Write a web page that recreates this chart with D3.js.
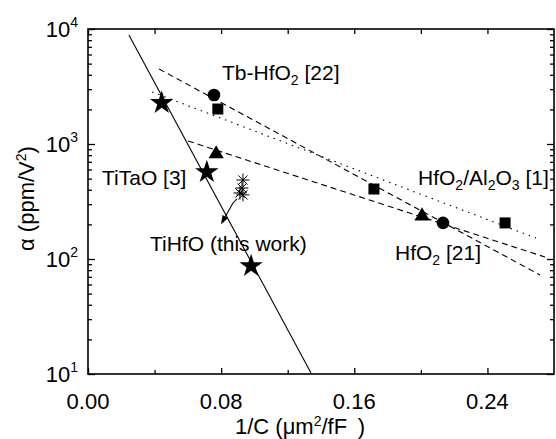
<!DOCTYPE html>
<html><head><meta charset="utf-8">
<script src="https://cdn.jsdelivr.net/npm/d3@7"></script>
<style>
body{margin:0;background:#fff;}
text{font-family:"Liberation Sans",Arial,sans-serif;fill:#000;}
</style></head>
<body><svg id="c" width="556" height="439"></svg>
<script>
// ---- data ----
const xTicks = [0, 0.08, 0.16, 0.24];
const xTickLabels = ["0.00", "0.08", "0.16", "0.24"];
const yTickExp = [1, 2, 3, 4];
// HfO2 [21] and Tb-HfO2 [22] (circles)
const circleX = [0.0757, 0.2133];
const circleY = [2670, 206];
// HfO2/Al2O3 [1] (squares)
const squareX = [0.078, 0.1718, 0.2506];
const squareY = [2015, 406, 206];
// triangles
const triX = [0.077, 0.2007];
const triY = [836, 241];
// TiTaO [3] & others (stars)
const starX = [0.0443, 0.0714, 0.098];
const starY = [2276, 571, 87];
// TiHfO (this work) asterisks
const astX = [0.0931, 0.0925, 0.0931, 0.0913];
const astY = [486, 414, 361, 375];
// fitted lines (endpoints)
const solidLineX = [0.0246, 0.134];
const solidLineY = [8870, 10.2];
const circLineX = [0.0427, 0.2716];
const circLineY = [4488, 72.6];
const triLineX = [0.0601, 0.2746];
const triLineY = [1062, 104];
const sqLineX = [0.0385, 0.2692];
const sqLineY = [2832, 152];
// arrow path
const arrowX = [0.0895, 0.0871, 0.0799];
const arrowY = [333, 307, 200];

// ---- layout ----
const svg = d3.select("#c");
const L = 88, R = 554, T = 29, B = 374;
const x = d3.scaleLinear().domain([0, 0.28]).range([L, R]);
const y = d3.scaleLog().domain([10, 10000]).range([B, T]);
const FS = 21;

const g = svg.append("g");
const minor = [];
for (let e = 1; e < 4; e++) for (let m = 2; m <= 9; m++) minor.push(m * Math.pow(10, e));
const yMaj = yTickExp.map(e => Math.pow(10, e));
const yAxisL = d3.axisLeft(y).tickValues(minor).tickSize(-4).tickFormat("");
const yAxisLMaj = d3.axisLeft(y).tickValues(yMaj).tickSize(-7).tickFormat("");
const yAxisR = d3.axisRight(y).tickValues(minor).tickSize(-4).tickFormat("");
const yAxisRMaj = d3.axisRight(y).tickValues(yMaj).tickSize(-7).tickFormat("");
const xMinor = [0.04, 0.12, 0.2];
const xAxisB = d3.axisBottom(x).tickValues(xTicks).tickSize(-6).tickFormat("");
const xAxisBm = d3.axisBottom(x).tickValues(xMinor).tickSize(-4).tickFormat("");
const xAxisT = d3.axisTop(x).tickValues(xTicks.concat(xMinor)).tickSize(-5).tickFormat("");

function styleAxis(sel){
  sel.select(".domain").remove();
  sel.selectAll("line").attr("stroke","#000").attr("stroke-width",1.3);
}
g.append("g").attr("transform",`translate(${L},0)`).call(yAxisL).call(styleAxis);
g.append("g").attr("transform",`translate(${L},0)`).call(yAxisLMaj).call(styleAxis);
g.append("g").attr("transform",`translate(${R},0)`).call(yAxisR).call(styleAxis);
g.append("g").attr("transform",`translate(${R},0)`).call(yAxisRMaj).call(styleAxis);
g.append("g").attr("transform",`translate(0,${B})`).call(xAxisB).call(styleAxis);
g.append("g").attr("transform",`translate(0,${B})`).call(xAxisBm).call(styleAxis);
g.append("g").attr("transform",`translate(0,${T})`).call(xAxisT).call(styleAxis);
g.append("rect").attr("x",L).attr("y",T).attr("width",R-L).attr("height",B-T)
  .attr("fill","none").attr("stroke","#000").attr("stroke-width",1.6);

// x tick labels
svg.append("g").selectAll("text").data(xTicks).join("text")
  .attr("x", d => x(d)).attr("y", 409).attr("text-anchor","middle")
  .attr("font-size", 22).text((d,i) => xTickLabels[i]);

// y tick labels
const yl = svg.append("g").selectAll("text").data(yTickExp).join("text")
  .attr("x", 78).attr("y", d => y(Math.pow(10,d)) + 8).attr("text-anchor","end")
  .attr("font-size", 22);
yl.append("tspan").text("10");
yl.append("tspan").attr("dy",-10).attr("font-size",14).text(d => d);

// axis titles
const xt = svg.append("text").attr("x", 235).attr("y", 434).attr("font-size", 22);
xt.append("tspan").text("1/C (\u03bcm");
xt.append("tspan").attr("dy",-8).attr("font-size",14).text("2");
xt.append("tspan").attr("dy",8).text("/fF\u2009 )");

const yt = svg.append("text").attr("transform","translate(34,251) rotate(-90)").attr("font-size", 22);
yt.append("tspan").text("\u03b1 (ppm/V");
yt.append("tspan").attr("dy",-8).attr("font-size",14).text("2");
yt.append("tspan").attr("dy",8).text(")");

// clip
svg.append("clipPath").attr("id","clip").append("rect").attr("x",L).attr("y",T).attr("width",R-L).attr("height",B-T);
const plot = svg.append("g").attr("clip-path","url(#clip)");

const line = d3.line().x(d => x(d[0])).y(d => y(d[1]));
function addLine(xs, ys, dash){
  plot.append("path").attr("d", line(xs.map((v,i)=>[v, ys[i]])))
    .attr("fill","none").attr("stroke","#000").attr("stroke-width",1.1)
    .attr("stroke-dasharray", dash);
}
addLine(solidLineX, solidLineY, null);
addLine(circLineX, circLineY, "6,4");
addLine(triLineX, triLineY, "6,4");
addLine(sqLineX, sqLineY, "1.5,5");

// markers
plot.selectAll(".c").data(circleX).join("circle")
  .attr("cx", d => x(d)).attr("cy", (d,i) => y(circleY[i])).attr("r", 6.3).attr("fill","#000");
plot.selectAll(".s").data(squareX).join("rect")
  .attr("x", d => x(d)-5.5).attr("y", (d,i) => y(squareY[i])-5.5).attr("width",11).attr("height",11).attr("fill","#000");
const triSym = d3.symbol().type(d3.symbolTriangle).size(100);
plot.selectAll(".t").data(triX).join("path")
  .attr("transform",(d,i)=>`translate(${x(d)},${y(triY[i])+1})`).attr("d", triSym()).attr("fill","#000");
const starSym = d3.symbol().type(d3.symbolStar).size(170);
plot.selectAll(".st").data(starX).join("path")
  .attr("transform",(d,i)=>`translate(${x(d)},${y(starY[i])})`).attr("d", starSym()).attr("fill","#000");
// asterisks
const ast = plot.selectAll(".a").data(astX).join("g")
  .attr("transform",(d,i)=>`translate(${x(d)},${y(astY[i])})`);
[[0,-6.5,0,6.5],[-6.5,0,6.5,0],[-4.6,-4.6,4.6,4.6],[-4.6,4.6,4.6,-4.6]].forEach(s=>{
  ast.append("line").attr("x1",s[0]).attr("y1",s[1]).attr("x2",s[2]).attr("y2",s[3])
    .attr("stroke","#000").attr("stroke-width",1);
});

// arrow
const ap = arrowX.map((v,i)=>[x(v), y(arrowY[i])]);
const tip = ap[2], prev = ap[1];
const ang = Math.atan2(tip[1]-prev[1], tip[0]-prev[0]);
const hl = 9, hw = 3.2;
const bx = tip[0]-hl*Math.cos(ang), by = tip[1]-hl*Math.sin(ang);
plot.append("path").attr("d", d3.line()([ap[0], ap[1], [bx, by]]))
  .attr("fill","none").attr("stroke","#000").attr("stroke-width",1.1);
plot.append("path").attr("d", `M${tip[0]},${tip[1]}L${bx - hw*Math.sin(ang)},${by + hw*Math.cos(ang)}L${bx + hw*Math.sin(ang)},${by - hw*Math.cos(ang)}Z`)
  .attr("fill","#000");

// annotations
function label(px, py, parts){
  const t = svg.append("text").attr("x",px).attr("y",py).attr("font-size",FS);
  let sub = false;
  parts.forEach(p=>{
    if (p.sub){ t.append("tspan").attr("dy",5).attr("font-size",14).text(p.sub); sub=true; }
    else { t.append("tspan").attr("dy", sub ? -5 : 0).text(p.t); sub=false; }
  });
}
label(222, 80, [{t:"Tb-HfO"},{sub:"2"},{t:" [22]"}]);
label(102, 185, [{t:"TiTaO [3]"}]);
label(150, 251, [{t:"TiHfO (this work)"}]);
label(418, 185, [{t:"HfO"},{sub:"2"},{t:"/Al"},{sub:"2"},{t:"O"},{sub:"3"},{t:" [1]"}]);
label(395, 260, [{t:"HfO"},{sub:"2"},{t:" [21]"}]);
</script></body></html>
